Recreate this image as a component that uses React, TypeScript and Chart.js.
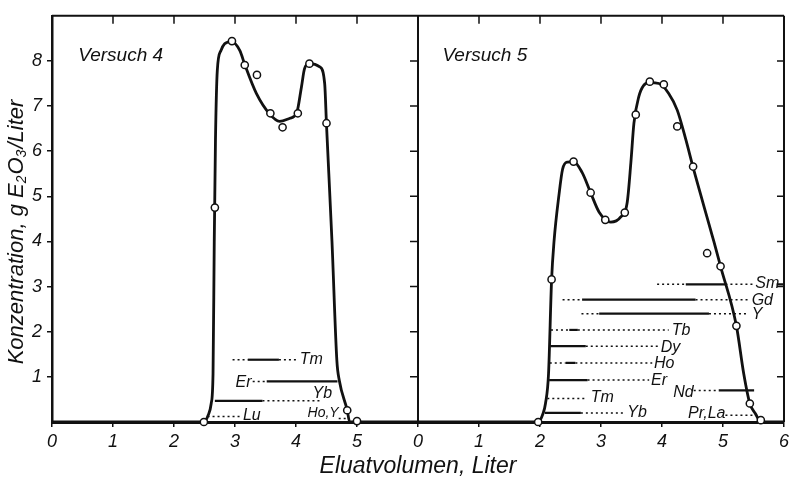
import { useEffect, useRef } from 'react';
import { Chart, registerables } from 'chart.js';

Chart.register(...registerables);

// ---------- axis ----------
const xMax = 12; // two panels of 0..6 Liter side by side
const panelWidth = 6;
const yMax = 9;
const yLabelled = [1, 2, 3, 4, 5, 6, 7, 8];

// ---------- Versuch 4 ----------
const v4PointX = [2.49, 2.67, 2.95, 3.16, 3.36, 3.58, 3.78, 4.03, 4.22, 4.5, 4.84, 5.0];
const v4PointY = [0, 4.75, 8.44, 7.91, 7.69, 6.84, 6.53, 6.84, 7.94, 6.62, 0.26, 0.02];
const v4CurveX = [0, 2.49, 2.56, 2.61, 2.64, 2.66, 2.68, 2.71, 2.77, 2.83, 2.94, 3.08, 3.16, 3.35, 3.57, 3.73, 3.9, 4.01, 4.09, 4.14, 4.22, 4.39, 4.47, 4.5, 4.59, 4.67, 4.71, 4.84, 4.88, 6];
const v4CurveY = [0, 0, 0.15, 0.41, 1.07, 4.0, 6.26, 7.79, 8.23, 8.38, 8.43, 8.23, 7.92, 7.28, 6.82, 6.66, 6.73, 6.84, 7.43, 7.83, 7.94, 7.87, 7.5, 6.59, 4.0, 1.36, 0.92, 0.26, 0, 0];

const v4BandNames = ['Tm', 'Er', 'Yb', 'Lu', 'Ho,Y'];
const v4BandLevels = [1.38, 0.9, 0.47, 0.12, 0.08];
const v4BandBreaks = [[2.96, 3.21, 3.72, 4.01], [3.29, 3.52, 4.68], [2.67, 3.45, 4.42], [2.55, 3.11], [4.7, 4.84]];
const v4BandStyles = [['dot', 'solid', 'dot'], ['dot', 'solid'], ['solid', 'dot'], ['dot'], ['dot']];
const v4LabelX = [4.06, 3.27, 4.27, 3.13, 4.19];
const v4LabelY = [1.38, 0.88, 0.64, 0.15, 0.2];
const v4LabelAlign = ['left', 'right', 'left', 'left', 'left'];

// ---------- Versuch 5 ----------
const v5PointX = [1.97, 2.19, 2.55, 2.83, 3.07, 3.39, 3.57, 3.8, 4.03, 4.25, 4.51, 4.74, 4.96, 5.22, 5.44, 5.62];
const v5PointY = [0, 3.16, 5.77, 5.08, 4.48, 4.64, 6.81, 7.54, 7.48, 6.55, 5.66, 3.74, 3.45, 2.13, 0.41, 0.04];
const v5CurveX = [0, 1.97, 2.05, 2.09, 2.14, 2.19, 2.23, 2.31, 2.37, 2.45, 2.55, 2.69, 2.83, 2.97, 3.16, 3.32, 3.43, 3.49, 3.54, 3.62, 3.7, 3.8, 3.95, 4.11, 4.25, 4.39, 4.51, 4.85, 4.96, 5.22, 5.34, 5.44, 5.53, 5.62, 6];
const v5CurveY = [0, 0, 0.19, 0.41, 1.07, 3.15, 4.0, 5.02, 5.6, 5.76, 5.77, 5.53, 5.08, 4.65, 4.43, 4.54, 4.87, 5.75, 6.62, 7.21, 7.46, 7.52, 7.5, 7.28, 6.91, 6.26, 5.64, 4.0, 3.45, 2.13, 1.07, 0.41, 0.19, 0, 0];

const v5BandNames = ['Sm', 'Gd', 'Y', 'Tb', 'Dy', 'Ho', 'Er', 'Tm', 'Yb', 'Nd', 'Pr,La'];
const v5BandLevels = [3.05, 2.71, 2.4, 2.04, 1.68, 1.31, 0.93, 0.52, 0.2, 0.7, 0.15];
const v5BandBreaks = [
  [3.92, 4.39, 5.04, 5.5, 5.88, 6.0],
  [2.37, 2.69, 4.55, 5.45],
  [2.68, 2.97, 4.77, 5.42],
  [2.18, 2.48, 2.62, 4.11],
  [2.17, 2.75, 3.95],
  [2.16, 2.42, 2.58, 3.84],
  [2.15, 2.78, 3.79],
  [2.12, 2.75],
  [2.08, 2.67, 3.38],
  [4.52, 4.93, 5.51],
  [5.04, 5.56],
];
const v5BandStyles = [
  ['dot', 'solid', 'dot', 'gap', 'solid'],
  ['dot', 'solid', 'dot'],
  ['dot', 'solid', 'dot'],
  ['dot', 'solid', 'dot'],
  ['solid', 'dot'],
  ['dot', 'solid', 'dot'],
  ['solid', 'dot'],
  ['dot'],
  ['solid', 'dot'],
  ['dot', 'solid'],
  ['dot'],
];
const v5LabelX = [5.53, 5.47, 5.47, 4.16, 3.98, 3.87, 3.82, 2.83, 3.43, 4.52, 5.04];
const v5LabelY = [3.07, 2.68, 2.37, 2.03, 1.65, 1.3, 0.92, 0.55, 0.21, 0.66, 0.19];
const v5LabelAlign = ['left', 'left', 'left', 'left', 'left', 'left', 'left', 'left', 'left', 'right', 'right'];

const panelTitles = ['Versuch 4', 'Versuch 5'];
const panelTitleX = [0.43, 0.4];
const panelTitleY = [8.11, 8.11];

const xTitle = 'Eluatvolumen, Liter';

const FAMILY = "'Liberation Sans', 'DejaVu Sans', sans-serif";
const INK = '#111';

function zip(xs: number[], ys: number[], dx = 0) {
  return xs.map((x, i) => ({ x: x + dx, y: ys[i] }));
}

function bandDatasets(breaks: number[][], levels: number[], styles: string[][], dx: number) {
  return breaks.map((b, i) => {
    const st = styles[i];
    return {
      type: 'line' as const,
      data: b.map((x) => ({ x: x + dx, y: levels[i] })),
      borderColor: INK,
      borderWidth: 2,
      pointRadius: 0,
      tension: 0,
      order: 3,
      clip: false as any,
      segment: {
        borderDash: (c: any) => (st[c.p0DataIndex] === 'dot' ? [2, 3] : []),
        borderWidth: (c: any) => (st[c.p0DataIndex] === 'dot' ? 1.5 : 2.2),
        borderColor: (c: any) => (st[c.p0DataIndex] === 'gap' ? 'rgba(0,0,0,0)' : INK),
      },
    };
  });
}

const framePlugin = {
  id: 'frame',
  afterDraw(chart: any) {
    const { ctx, chartArea: a, scales } = chart;
    const xs = scales.x;
    const ys = scales.y;
    const div = xs.getPixelForValue(panelWidth);
    ctx.save();
    ctx.strokeStyle = INK;
    ctx.lineCap = 'butt';
    // top, right, divider
    ctx.lineWidth = 2;
    ctx.beginPath();
    ctx.moveTo(a.left, a.top);
    ctx.lineTo(a.right, a.top);
    ctx.moveTo(a.right, a.top);
    ctx.lineTo(a.right, a.bottom);
    ctx.moveTo(div, a.top);
    ctx.lineTo(div, a.bottom);
    ctx.stroke();
    // inward ticks
    ctx.lineWidth = 1.5;
    ctx.beginPath();
    for (let v = 1; v < xMax; v++) {
      if (v === panelWidth) continue;
      const px = xs.getPixelForValue(v);
      ctx.moveTo(px, a.top);
      ctx.lineTo(px, a.top + 8);
    }
    for (const v of yLabelled) {
      const py = ys.getPixelForValue(v);
      ctx.moveTo(a.right - 7, py);
      ctx.lineTo(a.right, py);
      ctx.moveTo(div - 8, py);
      ctx.lineTo(div, py);
    }
    ctx.stroke();

    // band labels and panel titles
    ctx.fillStyle = INK;
    ctx.textBaseline = 'middle';
    ctx.font = `italic 16px ${FAMILY}`;
    v4BandNames.forEach((n, i) => {
      ctx.textAlign = v4LabelAlign[i];
      ctx.font = `italic ${n === 'Ho,Y' ? 14 : 16}px ${FAMILY}`;
      ctx.fillText(n, xs.getPixelForValue(v4LabelX[i]), ys.getPixelForValue(v4LabelY[i]));
    });
    ctx.font = `italic 16px ${FAMILY}`;
    v5BandNames.forEach((n, i) => {
      ctx.textAlign = v5LabelAlign[i];
      ctx.fillText(n, xs.getPixelForValue(v5LabelX[i] + panelWidth), ys.getPixelForValue(v5LabelY[i]));
    });
    ctx.font = `italic 19px ${FAMILY}`;
    ctx.textAlign = 'left';
    panelTitles.forEach((t, i) => {
      ctx.fillText(t, xs.getPixelForValue(panelTitleX[i] + i * panelWidth), ys.getPixelForValue(panelTitleY[i]));
    });

    // x axis title
    ctx.font = `italic 23px ${FAMILY}`;
    ctx.textAlign = 'center';
    ctx.fillText(xTitle, (a.left + a.right) / 2, 467);

    // y axis title with subscripts
    const parts: [string, boolean][] = [
      ['Konzentration, g E', false],
      ['2', true],
      ['O', false],
      ['3', true],
      ['/Liter', false],
    ];
    const big = `italic 22px ${FAMILY}`;
    const small = `italic 14px ${FAMILY}`;
    let total = 0;
    for (const [t, sub] of parts) {
      ctx.font = sub ? small : big;
      total += ctx.measureText(t).width + (sub ? 1 : 0);
    }
    ctx.translate(17, 232);
    ctx.rotate(-Math.PI / 2);
    ctx.textAlign = 'left';
    let cx = -total / 2;
    for (const [t, sub] of parts) {
      ctx.font = sub ? small : big;
      ctx.fillText(t, cx, sub ? 5 : 0);
      cx += ctx.measureText(t).width + (sub ? 1 : 0);
    }
    ctx.restore();
  },
};

export default function App() {
  const ref = useRef<HTMLCanvasElement>(null);
  useEffect(() => {
    document.body.style.margin = '0';
    const canvas = ref.current;
    if (!canvas) return;
    Chart.defaults.color = INK;
    const chart = new Chart(canvas, {
      type: 'line',
      data: {
        datasets: [
          {
            data: zip(v4PointX, v4PointY),
            showLine: false,
            pointRadius: 3.6,
            pointBackgroundColor: '#fff',
            pointBorderColor: INK,
            pointBorderWidth: 1.5,
            order: 0,
            clip: false as any,
          },
          {
            data: zip(v5PointX, v5PointY, panelWidth),
            showLine: false,
            pointRadius: 3.6,
            pointBackgroundColor: '#fff',
            pointBorderColor: INK,
            pointBorderWidth: 1.5,
            order: 0,
            clip: false as any,
          },
          {
            data: zip(v4CurveX, v4CurveY),
            borderColor: INK,
            borderWidth: 2.8,
            pointRadius: 0,
            cubicInterpolationMode: 'monotone',
            order: 1,
            clip: false as any,
          },
          {
            data: zip(v5CurveX, v5CurveY, panelWidth),
            borderColor: INK,
            borderWidth: 2.8,
            pointRadius: 0,
            cubicInterpolationMode: 'monotone',
            order: 1,
            clip: false as any,
          },
          ...bandDatasets(v4BandBreaks, v4BandLevels, v4BandStyles, 0),
          ...bandDatasets(v5BandBreaks, v5BandLevels, v5BandStyles, panelWidth),
        ] as any,
      },
      options: {
        animation: false,
        responsive: false,
        devicePixelRatio: 1,
        layout: { padding: { top: 10, right: 8, left: 0, bottom: 0 } },
        plugins: { legend: { display: false }, tooltip: { enabled: false } },
        events: [],
        scales: {
          x: {
            type: 'linear',
            min: 0,
            max: xMax,
            afterFit: (s: any) => {
              s.height = 58;
            },
            ticks: {
              stepSize: 1,
              autoSkip: false,
              maxRotation: 0,
              padding: 4,
              font: { family: FAMILY, size: 18, style: 'italic' },
              color: INK,
              callback: (v: any) => {
                const n = Number(v);
                return String(n < panelWidth ? n : n - panelWidth);
              },
            },
            grid: { drawOnChartArea: false, tickLength: 5, color: INK, lineWidth: 1.5 },
            border: { display: true, width: 3, color: INK },
          },
          y: {
            type: 'linear',
            min: 0,
            max: yMax,
            afterFit: (s: any) => {
              s.width = 52;
            },
            ticks: {
              stepSize: 1,
              padding: 5,
              font: { family: FAMILY, size: 18, style: 'italic' },
              color: INK,
              callback: (v: any) => (yLabelled.includes(Number(v)) ? String(v) : ''),
            },
            grid: {
              drawOnChartArea: false,
              tickLength: 5,
              lineWidth: 1.5,
              color: (c: any) => (yLabelled.includes(c.tick?.value) ? INK : 'rgba(0,0,0,0)'),
            },
            border: { display: true, width: 2.5, color: INK },
          },
        },
      } as any,
      plugins: [framePlugin],
    });
    return () => chart.destroy();
  }, []);
  return (
    <div style={{ width: 793, height: 480, background: '#fff' }}>
      <canvas ref={ref} width={793} height={480} style={{ display: 'block' }} />
    </div>
  );
}
